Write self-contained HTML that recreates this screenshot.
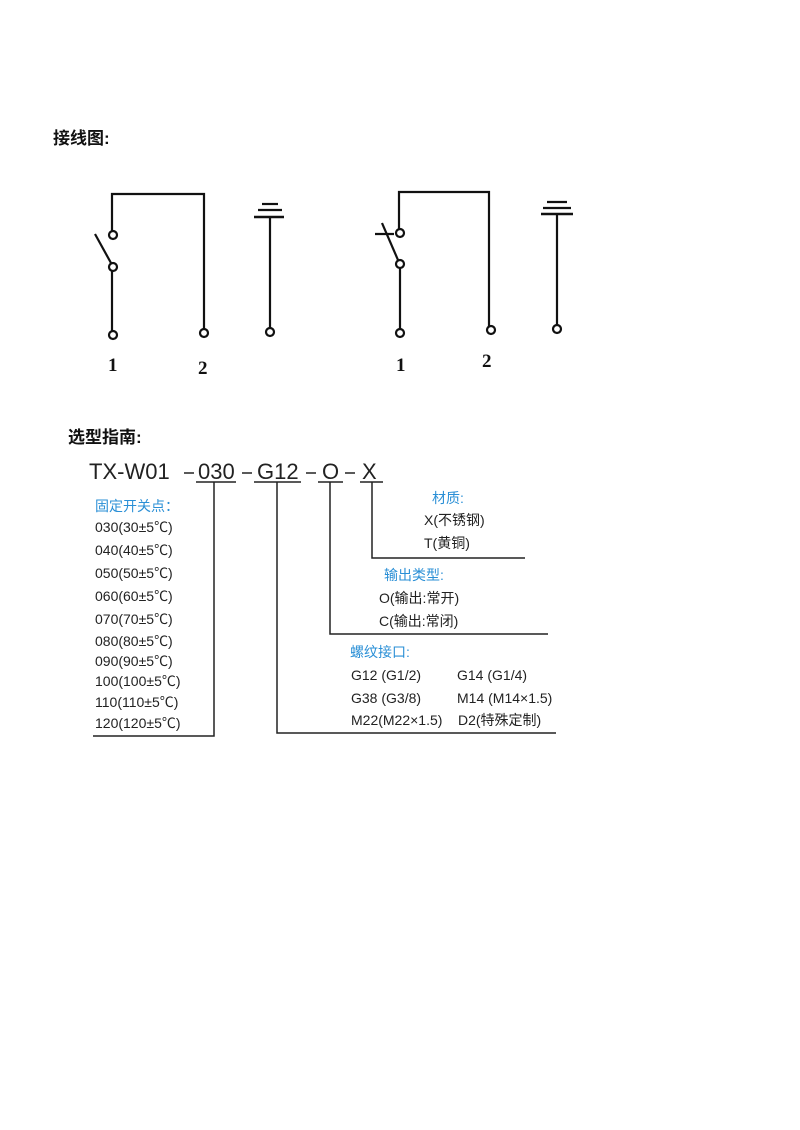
<!DOCTYPE html>
<html><head><meta charset="utf-8"><style>
html,body{margin:0;padding:0;background:#fff;}
svg{display:block}
.h{font-family:"Liberation Sans","Noto Sans CJK SC",sans-serif;font-weight:bold;font-size:17px;fill:#111}
.t{font-family:"Liberation Sans","Noto Sans CJK SC",sans-serif;font-size:14px;fill:#222}
.b{font-family:"Liberation Sans","Noto Sans CJK SC",sans-serif;font-size:14px;fill:#2a8fd6}
.big{font-family:"Liberation Sans","Noto Sans CJK SC",sans-serif;font-size:22px;fill:#222}
.n{font-family:"Liberation Serif",serif;font-weight:bold;font-size:19px;fill:#111}
</style></head><body>
<svg width="800" height="1130" viewBox="0 0 800 1130" xmlns="http://www.w3.org/2000/svg">
<text class="h" x="53" y="144">接线图:</text>
<g stroke="#111" stroke-width="2.2" fill="none">
 <polyline points="112,231 112,194 204,194 204,329"/>
 <line x1="95" y1="234" x2="111" y2="263"/>
 <line x1="112" y1="271" x2="112" y2="331"/>
 <circle cx="113" cy="235" r="4"/><circle cx="113" cy="267" r="4"/>
 <circle cx="113" cy="335" r="4"/><circle cx="204" cy="333" r="4"/>
 <line x1="262" y1="204" x2="278" y2="204"/>
 <line x1="258" y1="210" x2="282" y2="210"/>
 <line x1="254" y1="217" x2="284" y2="217" stroke-width="2.6"/>
 <line x1="270" y1="217" x2="270" y2="328"/>
 <circle cx="270" cy="332" r="4"/>
 <polyline points="399,229 399,192 489,192 489,326"/>
 <line x1="382" y1="223" x2="398" y2="260"/>
 <line x1="375" y1="234" x2="394" y2="234"/>
 <line x1="400" y1="268" x2="400" y2="329"/>
 <circle cx="400" cy="233" r="4"/><circle cx="400" cy="264" r="4"/>
 <circle cx="400" cy="333" r="4"/><circle cx="491" cy="330" r="4"/>
 <line x1="547" y1="202" x2="567" y2="202"/>
 <line x1="543" y1="208" x2="571" y2="208"/>
 <line x1="541" y1="214" x2="573" y2="214" stroke-width="2.6"/>
 <line x1="557" y1="214" x2="557" y2="325"/>
 <circle cx="557" cy="329" r="4"/>
</g>
<text class="n" x="108" y="371">1</text><text class="n" x="198" y="374">2</text>
<text class="n" x="396" y="371">1</text><text class="n" x="482" y="367">2</text>

<text class="h" x="68" y="443">选型指南:</text>
<text class="big" x="89" y="479">TX-W01</text>
<text class="big" x="198" y="479">030</text>
<text class="big" x="257" y="479">G12</text>
<text class="big" x="322" y="479">O</text>
<text class="big" x="362" y="479">X</text>
<g stroke="#222" stroke-width="1.5" fill="none">
 <line x1="184" y1="473" x2="194" y2="473"/>
 <line x1="242" y1="473" x2="252" y2="473"/>
 <line x1="306" y1="473" x2="316" y2="473"/>
 <line x1="345" y1="473" x2="355" y2="473"/>
 <line x1="196" y1="482" x2="236" y2="482"/>
 <line x1="254" y1="482" x2="301" y2="482"/>
 <line x1="318" y1="482" x2="343" y2="482"/>
 <line x1="360" y1="482" x2="383" y2="482"/>
 <polyline points="214,482 214,736 93,736"/>
 <polyline points="277,482 277,733 556,733"/>
 <polyline points="330,482 330,634 548,634"/>
 <polyline points="372,482 372,558 525,558"/>
</g>
<text class="b" x="95" y="511">固定开关点：</text>
<text class="t" x="95" y="532">030(30±5℃)</text>
<text class="t" x="95" y="555">040(40±5℃)</text>
<text class="t" x="95" y="578">050(50±5℃)</text>
<text class="t" x="95" y="601">060(60±5℃)</text>
<text class="t" x="95" y="624">070(70±5℃)</text>
<text class="t" x="95" y="646">080(80±5℃)</text>
<text class="t" x="95" y="666">090(90±5℃)</text>
<text class="t" x="95" y="686">100(100±5℃)</text>
<text class="t" x="95" y="707">110(110±5℃)</text>
<text class="t" x="95" y="728">120(120±5℃)</text>

<text class="b" x="432" y="503">材质:</text>
<text class="t" x="424" y="525">X(不锈钢)</text>
<text class="t" x="424" y="548">T(黄铜)</text>
<text class="b" x="384" y="580">输出类型:</text>
<text class="t" x="379" y="603">O(输出:常开)</text>
<text class="t" x="379" y="626">C(输出:常闭)</text>
<text class="b" x="350" y="657">螺纹接口:</text>
<text class="t" x="351" y="680">G12 (G1/2)</text>
<text class="t" x="457" y="680">G14 (G1/4)</text>
<text class="t" x="351" y="703">G38 (G3/8)</text>
<text class="t" x="457" y="703">M14 (M14×1.5)</text>
<text class="t" x="351" y="725">M22(M22×1.5)</text>
<text class="t" x="458" y="725">D2(特殊定制)</text>
</svg>
</body></html>
